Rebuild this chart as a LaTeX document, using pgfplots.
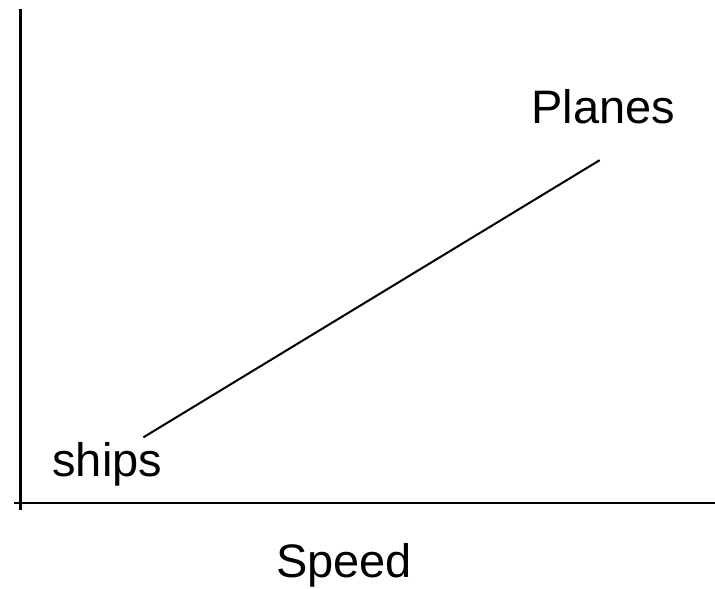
\documentclass[border=0pt]{standalone}
\usepackage{pgfplots}
\pgfplotsset{compat=1.18}
\usepackage{fontspec}
\setmainfont{Liberation Sans}

\begin{document}
\begin{tikzpicture}
\useasboundingbox (0,0) rectangle (357.5pt,294pt);
\begin{axis}[
  at={(10.25pt,42.5pt)}, anchor=south west,
  scale only axis,
  width=347.25pt, height=247pt,
  xmin=0, xmax=10, ymin=0, ymax=10,
  axis lines=left,
  axis line style={-, line width=1.4pt},
  xtick={0}, ytick={0},
  xticklabels={}, yticklabels={},
  tick align=outside,
  major tick length=3.5pt,
  tick style={line width=1.4pt, black},
  clip=false,
  font=\fontsize{23.5pt}{28pt}\selectfont,
  ]
\addplot[black, line width=1pt] coordinates {(1.77,1.33) (8.34,6.94)};
\node[anchor=base] at (axis cs:8.39,7.69) {Planes};
\node[anchor=base] at (axis cs:1.25,0.53) {ships};
\node[anchor=base] at (axis cs:4.66,-1.50) {Speed};
\end{axis}
\end{tikzpicture}
\end{document}
